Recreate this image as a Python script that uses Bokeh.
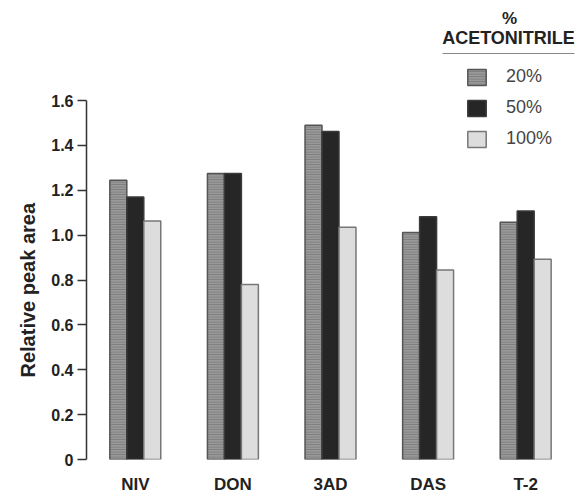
import math
from bokeh.plotting import figure
from bokeh.models import (ColumnDataSource, FactorRange, Range1d, FixedTicker, Legend,
                          LegendItem, Label, BoxAnnotation, Title)
from bokeh.transform import dodge
from bokeh.embed import file_html
from bokeh.resources import INLINE

# ---- data ----
toxins = ["NIV", "DON", "3AD", "DAS", "T-2"]
pct20 = [1.245, 1.275, 1.490, 1.012, 1.057]
pct50 = [1.170, 1.275, 1.462, 1.082, 1.107]
pct100 = [1.063, 0.780, 1.035, 0.845, 0.892]
series_labels = ["20%", "50%", "100%"]
y_ticks = [0, 0.2, 0.4, 0.6, 0.8, 1.0, 1.2, 1.4, 1.6]
y_tick_labels = ["0", "0.2", "0.4", "0.6", "0.8", "1.0", "1.2", "1.4", "1.6"]
y_title = "Relative peak area"

FONT = "Liberation Sans"
W, H = 579, 496
LEFT, RIGHT, BOTTOM = 86, 5, 37
FRAME_H = H - BOTTOM          # 459
TOP_TICK_PX = 100             # screen y (from figure top) of 1.6
y_end = 1.6 * FRAME_H / (FRAME_H - TOP_TICK_PX)

src = ColumnDataSource(dict(toxin=toxins, p20=pct20, p50=pct50, p100=pct100))

p = figure(width=W, height=H, x_range=FactorRange(*toxins, range_padding=0),
           y_range=Range1d(0, y_end), output_backend="svg", toolbar_location=None,
           min_border_left=LEFT, min_border_right=RIGHT, min_border_top=0,
           min_border_bottom=BOTTOM)
p.outline_line_color = None
p.grid.visible = False
p.background_fill_color = "white"
p.border_fill_color = "white"

bw = 0.174
r20 = p.vbar(x=dodge("toxin", -bw, range=p.x_range), top="p20", width=bw, source=src,
             fill_color="#999999", hatch_pattern="horizontal_line", hatch_color="#7a7a7a",
             hatch_scale=2.5, hatch_weight=1, line_color="#555555", line_width=1.5)
r50 = p.vbar(x=dodge("toxin", 0, range=p.x_range), top="p50", width=bw, source=src,
             fill_color="#262626", line_color="#3a3a3a", line_width=1.5)
r100 = p.vbar(x=dodge("toxin", bw, range=p.x_range), top="p100", width=bw, source=src,
              fill_color="#dddddd", line_color="#777777", line_width=1.5)

# y axis
ya = p.yaxis[0]
ya.ticker = FixedTicker(ticks=y_ticks)
ya.bounds = (0, 1.6)
ya.major_label_overrides = {t: s for t, s in zip(y_ticks, y_tick_labels)}
ya.minor_tick_line_color = None
ya.major_tick_out = 9
ya.major_tick_in = 0
ya.major_label_standoff = 4
ya.axis_line_color = "#333333"
ya.axis_line_width = 1.5
ya.major_tick_line_color = "#333333"
ya.major_tick_line_width = 1.5
ya.major_label_text_font = FONT
ya.major_label_text_font_style = "bold"
ya.major_label_text_font_size = "16px"
ya.major_label_text_color = "#222222"

# y axis title as a left-side title so it can sit on the 0..1.6 span
p.add_layout(Title(text=y_title, align="left", offset=82, standoff=20,
                   text_font=FONT, text_font_style="bold", text_font_size="20px",
                   text_color="#222222"), "left")

# x axis
xa = p.xaxis[0]
xa.axis_line_color = None
xa.major_tick_line_color = None
xa.minor_tick_line_color = None
xa.major_tick_out = 0
xa.major_tick_in = 0
xa.minor_tick_out = 0
xa.major_label_standoff = 15
xa.major_label_text_font = FONT
xa.major_label_text_font_style = "bold"
xa.major_label_text_font_size = "17px"
xa.major_label_text_color = "#222222"

# legend
legend = Legend(items=[LegendItem(label=series_labels[0], renderers=[r20]),
                       LegendItem(label=series_labels[1], renderers=[r50]),
                       LegendItem(label=series_labels[2], renderers=[r100])],
                location=(379, 310), orientation="vertical",
                glyph_width=23, glyph_height=20, label_height=20, spacing=10,
                label_standoff=18, padding=0, margin=0,
                border_line_color=None, background_fill_alpha=0,
                label_text_font=FONT, label_text_font_size="18px",
                label_text_color="#444444")
p.add_layout(legend, "center")

p.add_layout(Label(x=423, y=441, x_units="screen", y_units="screen", text="%",
                   text_align="center", text_baseline="middle", text_font=FONT,
                   text_font_style="bold", text_font_size="17px", text_color="#222222"))
p.add_layout(Label(x=422, y=422, x_units="screen", y_units="screen", text="ACETONITRILE",
                   text_align="center", text_baseline="middle", text_font=FONT,
                   text_font_style="bold", text_font_size="18px", text_color="#222222"))
p.add_layout(BoxAnnotation(left=356, right=489, bottom=405.5, top=406.5,
                           left_units="screen", right_units="screen",
                           bottom_units="screen", top_units="screen",
                           fill_color="#888888", fill_alpha=1, line_color=None))

open("out.html", "w").write(file_html(p, INLINE))
